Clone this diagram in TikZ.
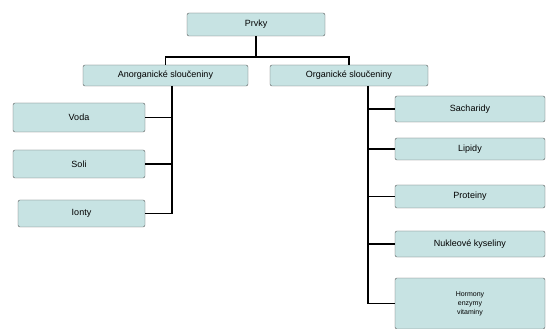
\documentclass[tikz,border=0pt]{standalone}
\usepackage{fontspec}
\setmainfont{Liberation Sans}

\begin{document}
\begin{tikzpicture}[x=1pt, y=-1pt,
  every node/.style={draw=gray!70!black, fill=teal!22!white, rounded corners=2pt, inner sep=1pt, font=\fontsize{9}{10}\selectfont},
  line/.style={draw=black, line width=1.2pt}]
  \useasboundingbox (0,0) rectangle (550,329);
  \node[minimum width=138, minimum height=23] (prvky) at (256, 24.5) {Prvky};
  \node[minimum width=165, minimum height=21] (anorg) at (165.5, 75.5) {Anorganické sloučeniny};
  \node[minimum width=158, minimum height=21] (org) at (349, 75.5) {Organické sloučeniny};
  \node[minimum width=132, minimum height=29] (voda) at (79, 117.5) {Voda};
  \node[minimum width=132, minimum height=28] (soli) at (79, 164) {Soli};
  \node[minimum width=127, minimum height=27] (ionty) at (81.5, 213.5) {Ionty};
  \node[minimum width=150, minimum height=26] (sach) at (470, 109) {Sacharidy};
  \node[minimum width=150, minimum height=22] (lip) at (470, 149) {Lipidy};
  \node[minimum width=150, minimum height=23] (prot) at (470, 196.5) {Proteiny};
  \node[minimum width=150, minimum height=26] (nukl) at (470, 244) {Nukleové kyseliny};
  \node[minimum width=150, minimum height=51, align=center, font=\fontsize{7}{9}\selectfont] (horm) at (470, 303.5) {Hormony\\enzymy\\vitaminy};
  \coordinate (split) at (256, 57);
  \coordinate (anorgline) at (172, 86);
  \coordinate (orgline) at (368, 86);
  \draw[line] (prvky.south) -- (split);
  \draw[line] (anorg.north) |- (split) -| (org.north);
  \draw[line] (anorgline) |- (ionty.east);
  \draw[line] (voda.east) -- (voda.east -| anorgline);
  \draw[line] (soli.east) -- (soli.east -| anorgline);
  \draw[line] (orgline) |- (horm.west);
  \foreach \n in {sach, lip, prot, nukl}
    \draw[line] (\n.west) -- (\n.west -| orgline);
\end{tikzpicture}
\end{document}
